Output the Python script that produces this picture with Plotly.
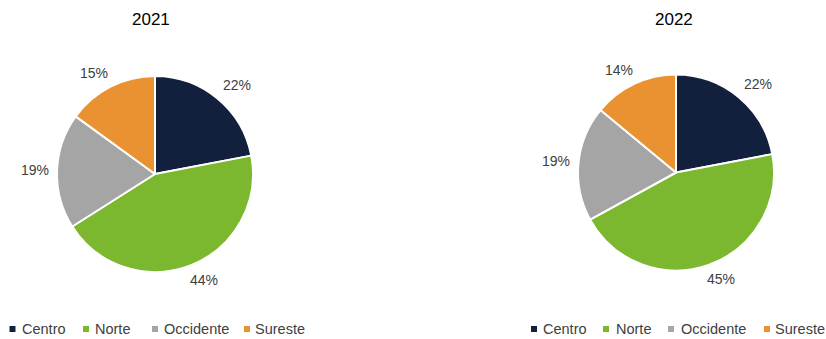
import math
import plotly.graph_objects as go

regions = ["Centro", "Norte", "Occidente", "Sureste"]
share_2021 = [22, 44, 19, 15]
share_2022 = [22, 45, 19, 14]
years = ["2021", "2022"]
colors = ["#13203d", "#7cb82f", "#a5a5a5", "#ea9232"]

W, H = 826, 339
FONT = "Liberation Sans, Arial, sans-serif"
TEXT_GREY = "#404040"

# pie placement in pixels: centre x, centre y, radius, heading x
pies = [
    dict(values=share_2021, cx=155, cy=174, r=98, title_x=151),
    dict(values=share_2022, cx=676, cy=172.5, r=98, title_x=674),
]
# legend rows: pixel x of each swatch and of each label start
legend_rows = [
    dict(marks=[12.5, 86, 155, 247], texts=[20, 93, 162, 253]),
    dict(marks=[534, 606, 671, 767], texts=[541, 614, 679, 773]),
]
LEGEND_Y = 329
TITLE_Y = 20
LABEL_GAP = 8          # px between pie edge and the nearest side of a label
LABEL_W, LABEL_H = 28, 14


def px_x(x):
    return x / W


def px_y(y):
    return 1 - y / H


def clamp(v):
    return max(-1.0, min(1.0, v))


fig = go.Figure()
annotations = []
shapes = []

for year, pie in zip(years, pies):
    cx, cy, r = pie["cx"], pie["cy"], pie["r"]
    fig.add_trace(go.Pie(
        labels=regions,
        values=pie["values"],
        sort=False,
        direction="clockwise",
        rotation=0,
        marker=dict(colors=colors, line=dict(color="white", width=2)),
        textposition="none",
        showlegend=False,
        hoverinfo="label+value",
        domain=dict(x=[px_x(cx - r), px_x(cx + r)], y=[px_y(cy + r), px_y(cy - r)]),
    ))

    # year heading above each pie
    annotations.append(dict(
        text=year, x=px_x(pie["title_x"]), y=px_y(TITLE_Y), xref="paper", yref="paper",
        xanchor="center", yanchor="middle", showarrow=False,
        font=dict(family=FONT, size=17, color="#000000"),
    ))

    # percentage labels outside each slice: the label box sits just past the
    # rim along the slice's mid-angle, pushed out by half its size
    total = sum(pie["values"])
    cum = 0
    for v in pie["values"]:
        mid = (cum + v / 2) / total * 2 * math.pi
        cum += v
        dx, dy = math.sin(mid), -math.cos(mid)
        lx = cx + (r + LABEL_GAP) * dx + LABEL_W / 2 * clamp(2 * dx)
        ly = cy + (r + LABEL_GAP) * dy + LABEL_H / 2 * clamp(2 * dy)
        annotations.append(dict(
            text=f"{v}%", x=px_x(lx), y=px_y(ly), xref="paper", yref="paper",
            xanchor="center", yanchor="middle", showarrow=False,
            font=dict(family=FONT, size=14, color=TEXT_GREY),
        ))

# legend rows under each pie
for row in legend_rows:
    for name, col, mx, tx in zip(regions, colors, row["marks"], row["texts"]):
        shapes.append(dict(
            type="rect", xref="paper", yref="paper",
            xsizemode="pixel", ysizemode="pixel",
            xanchor=px_x(mx), yanchor=px_y(LEGEND_Y),
            x0=-3, x1=3, y0=-3, y1=3,
            fillcolor=col, line=dict(width=0),
        ))
        annotations.append(dict(
            text=name, x=px_x(tx), y=px_y(LEGEND_Y), xref="paper", yref="paper",
            xanchor="left", yanchor="middle", showarrow=False,
            font=dict(family=FONT, size=14.5, color=TEXT_GREY),
        ))

fig.update_layout(
    width=W,
    height=H,
    margin=dict(l=0, r=0, t=0, b=0),
    paper_bgcolor="white",
    plot_bgcolor="white",
    font=dict(family=FONT),
    annotations=annotations,
    shapes=shapes,
)

fig.write_html("out.html")
